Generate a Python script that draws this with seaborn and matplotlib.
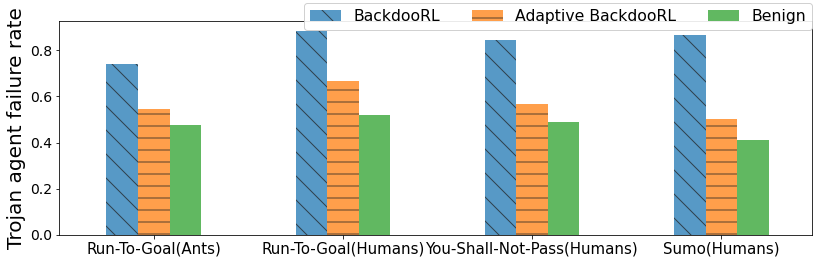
import pandas as pd
import seaborn as sns
import matplotlib.pyplot as plt

tasks = ["Run-To-Goal(Ants)", "Run-To-Goal(Humans)", "You-Shall-Not-Pass(Humans)", "Sumo(Humans)"]
methods = ["BackdooRL", "Adaptive BackdooRL", "Benign"]
backdoorl = [0.739, 0.882, 0.845, 0.867]
adaptive = [0.545, 0.668, 0.569, 0.502]
benign = [0.474, 0.519, 0.491, 0.411]
colors = ["#1f77b4", "#ff7f0e", "#2ca02c"]
hatches = ["\\", "-", ""]

rows = []
for m, vals in zip(methods, [backdoorl, adaptive, benign]):
    for t, v in zip(tasks, vals):
        rows.append({"task": t, "method": m, "rate": v})
df = pd.DataFrame(rows)

fig = plt.figure(figsize=(822 / 72, 263 / 72), dpi=72)
ax = fig.add_axes([0.072, 0.1065, 0.916, 0.8135])

sns.barplot(data=df, x="task", y="rate", hue="method", order=tasks, hue_order=methods,
            palette=colors, saturation=1, width=0.5, alpha=0.75, edgecolor="#222222",
            linewidth=0, errorbar=None, ax=ax)

# hatch per method
for cont, h in zip(ax.containers, hatches):
    for bar in cont:
        bar.set_hatch(h)

ax.set_xlim(-0.5, 3.48)
ax.set_ylim(0, 0.926)
ax.set_xlabel("")
ax.set_ylabel("Trojan agent failure rate", fontsize=20)
ax.tick_params(axis="y", labelsize=14)
ax.tick_params(axis="x", labelsize=15)

handles, labels = ax.get_legend_handles_labels()
for hd, h in zip(handles, hatches):
    hd.set_hatch(h)
ax.legend(handles, labels, ncol=3, loc="upper right", bbox_to_anchor=(1.0, 1.085),
          borderaxespad=0, fontsize=15.6, framealpha=0.9)

plt.savefig("out.png", dpi=72)
